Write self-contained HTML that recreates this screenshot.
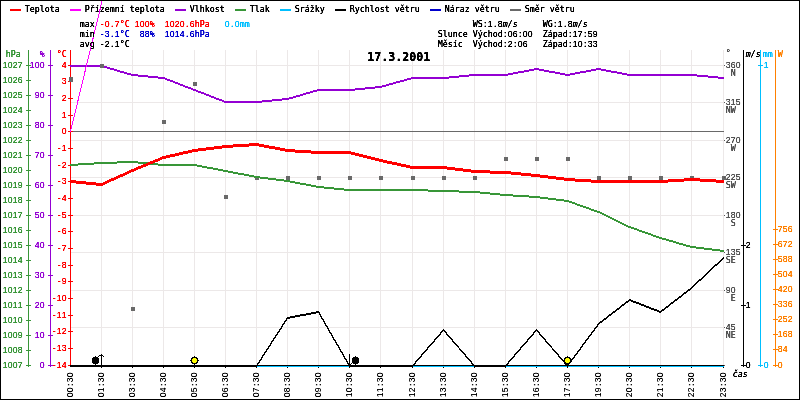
<!DOCTYPE html>
<html lang="cs"><head><meta charset="utf-8"><title>Meteo 17.3.2001</title>
<style>
html,body{margin:0;padding:0;background:#fff;}
body{width:800px;height:400px;overflow:hidden;}
svg{display:block;}
.t{font-family:"DejaVu Sans Mono","Liberation Mono",monospace;font-size:8.305px;white-space:pre;}
.i{font-family:"DejaVu Sans Mono","Liberation Mono",monospace;font-size:8.305px;font-style:italic;white-space:pre;}
.b{font-family:"DejaVu Sans Mono","Liberation Mono",monospace;font-size:11.63px;font-weight:bold;white-space:pre;}
.d{font-family:"Liberation Sans","DejaVu Sans",sans-serif;font-size:8.6px;font-style:normal;}
.db{font-family:"Liberation Sans","DejaVu Sans",sans-serif;font-size:11.6px;font-weight:bold;}
#labels text,#times text{text-anchor:middle;}
</style></head><body>
<svg width="800" height="400" viewBox="0 0 800 400">
<defs><filter id="px" x="0" y="0" width="100%" height="100%" color-interpolation-filters="sRGB"><feComponentTransfer><feFuncA type="linear" slope="2.1" intercept="-0.08"/></feComponentTransfer></filter><filter id="px2" x="0" y="0" width="100%" height="100%" color-interpolation-filters="sRGB"><feComponentTransfer><feFuncA type="linear" slope="1.25" intercept="0"/></feComponentTransfer></filter></defs>
<rect x="0" y="0" width="800" height="400" fill="#fff"/>
<g shape-rendering="crispEdges">
<rect x="101" y="50" width="1" height="315" fill="#ece8e8"/>
<rect x="132" y="50" width="1" height="315" fill="#ece8e8"/>
<rect x="163" y="50" width="1" height="315" fill="#ece8e8"/>
<rect x="194" y="50" width="1" height="315" fill="#ece8e8"/>
<rect x="225" y="50" width="1" height="315" fill="#ece8e8"/>
<rect x="256" y="50" width="1" height="315" fill="#ece8e8"/>
<rect x="287" y="50" width="1" height="315" fill="#ece8e8"/>
<rect x="318" y="50" width="1" height="315" fill="#ece8e8"/>
<rect x="349" y="50" width="1" height="315" fill="#ece8e8"/>
<rect x="380" y="50" width="1" height="315" fill="#ece8e8"/>
<rect x="412" y="50" width="1" height="315" fill="#ece8e8"/>
<rect x="443" y="50" width="1" height="315" fill="#ece8e8"/>
<rect x="474" y="50" width="1" height="315" fill="#ece8e8"/>
<rect x="505" y="50" width="1" height="315" fill="#ece8e8"/>
<rect x="536" y="50" width="1" height="315" fill="#ece8e8"/>
<rect x="567" y="50" width="1" height="315" fill="#ece8e8"/>
<rect x="598" y="50" width="1" height="315" fill="#ece8e8"/>
<rect x="629" y="50" width="1" height="315" fill="#ece8e8"/>
<rect x="660" y="50" width="1" height="315" fill="#ece8e8"/>
<rect x="691" y="50" width="1" height="315" fill="#ece8e8"/>
<rect x="723" y="50" width="1" height="315" fill="#ece8e8"/>
<rect x="70" y="65" width="654" height="1" fill="#ece8e8"/>
<rect x="70" y="102" width="654" height="1" fill="#ece8e8"/>
<rect x="70" y="140" width="654" height="1" fill="#ece8e8"/>
<rect x="70" y="177" width="654" height="1" fill="#ece8e8"/>
<rect x="70" y="215" width="654" height="1" fill="#ece8e8"/>
<rect x="70" y="252" width="654" height="1" fill="#ece8e8"/>
<rect x="70" y="290" width="654" height="1" fill="#ece8e8"/>
<rect x="70" y="327" width="654" height="1" fill="#ece8e8"/>
<rect x="70" y="365" width="654" height="1" fill="#ece8e8"/>
<rect x="70" y="131" width="654" height="1" fill="#696969"/>
<rect x="28" y="50" width="1" height="317" fill="#389638"/>
<rect x="26" y="65" width="5" height="1" fill="#389638"/>
<rect x="26" y="80" width="5" height="1" fill="#389638"/>
<rect x="26" y="95" width="5" height="1" fill="#389638"/>
<rect x="26" y="110" width="5" height="1" fill="#389638"/>
<rect x="26" y="125" width="5" height="1" fill="#389638"/>
<rect x="26" y="140" width="5" height="1" fill="#389638"/>
<rect x="26" y="155" width="5" height="1" fill="#389638"/>
<rect x="26" y="170" width="5" height="1" fill="#389638"/>
<rect x="26" y="185" width="5" height="1" fill="#389638"/>
<rect x="26" y="200" width="5" height="1" fill="#389638"/>
<rect x="26" y="215" width="5" height="1" fill="#389638"/>
<rect x="26" y="230" width="5" height="1" fill="#389638"/>
<rect x="26" y="245" width="5" height="1" fill="#389638"/>
<rect x="26" y="260" width="5" height="1" fill="#389638"/>
<rect x="26" y="275" width="5" height="1" fill="#389638"/>
<rect x="26" y="290" width="5" height="1" fill="#389638"/>
<rect x="26" y="305" width="5" height="1" fill="#389638"/>
<rect x="26" y="320" width="5" height="1" fill="#389638"/>
<rect x="26" y="335" width="5" height="1" fill="#389638"/>
<rect x="26" y="350" width="5" height="1" fill="#389638"/>
<rect x="26" y="365" width="5" height="1" fill="#389638"/>
<rect x="50" y="50" width="1" height="317" fill="#9400d3"/>
<rect x="48" y="65" width="5" height="1" fill="#9400d3"/>
<rect x="48" y="95" width="5" height="1" fill="#9400d3"/>
<rect x="48" y="125" width="5" height="1" fill="#9400d3"/>
<rect x="48" y="155" width="5" height="1" fill="#9400d3"/>
<rect x="48" y="185" width="5" height="1" fill="#9400d3"/>
<rect x="48" y="215" width="5" height="1" fill="#9400d3"/>
<rect x="48" y="245" width="5" height="1" fill="#9400d3"/>
<rect x="48" y="275" width="5" height="1" fill="#9400d3"/>
<rect x="48" y="305" width="5" height="1" fill="#9400d3"/>
<rect x="48" y="335" width="5" height="1" fill="#9400d3"/>
<rect x="48" y="365" width="5" height="1" fill="#9400d3"/>
<rect x="70" y="50" width="1" height="315" fill="#ff0000"/>
<rect x="68" y="65" width="5" height="1" fill="#ff0000"/>
<rect x="68" y="81" width="5" height="1" fill="#ff0000"/>
<rect x="68" y="98" width="5" height="1" fill="#ff0000"/>
<rect x="68" y="115" width="5" height="1" fill="#ff0000"/>
<rect x="68" y="131" width="5" height="1" fill="#ff0000"/>
<rect x="68" y="148" width="5" height="1" fill="#ff0000"/>
<rect x="68" y="165" width="5" height="1" fill="#ff0000"/>
<rect x="68" y="181" width="5" height="1" fill="#ff0000"/>
<rect x="68" y="198" width="5" height="1" fill="#ff0000"/>
<rect x="68" y="215" width="5" height="1" fill="#ff0000"/>
<rect x="68" y="231" width="5" height="1" fill="#ff0000"/>
<rect x="68" y="248" width="5" height="1" fill="#ff0000"/>
<rect x="68" y="265" width="5" height="1" fill="#ff0000"/>
<rect x="68" y="281" width="5" height="1" fill="#ff0000"/>
<rect x="68" y="298" width="5" height="1" fill="#ff0000"/>
<rect x="68" y="315" width="5" height="1" fill="#ff0000"/>
<rect x="68" y="331" width="5" height="1" fill="#ff0000"/>
<rect x="68" y="348" width="5" height="1" fill="#ff0000"/>
<rect x="68" y="365" width="2" height="1" fill="#ff0000"/>
<rect x="70" y="131" width="1" height="1" fill="#ff00ff"/>
<rect x="70" y="365" width="654" height="2" fill="#00bfff"/>
<polygon fill="#9400d3" points="70.00,65.00 102.00,65.00 102.00,67.00 70.00,67.00"/>
<polygon fill="#9400d3" points="101.00,64.85 133.00,74.15 133.00,76.15 101.00,66.85"/>
<polygon fill="#9400d3" points="132.00,73.95 164.00,77.05 164.00,79.05 132.00,75.95"/>
<polygon fill="#9400d3" points="163.00,76.81 195.00,89.19 195.00,91.19 163.00,78.81"/>
<polygon fill="#9400d3" points="194.00,88.81 226.00,101.19 226.00,103.19 194.00,90.81"/>
<polygon fill="#9400d3" points="225.00,101.00 257.00,101.00 257.00,103.00 225.00,103.00"/>
<polygon fill="#9400d3" points="256.00,101.05 288.00,97.95 288.00,99.95 256.00,103.05"/>
<polygon fill="#9400d3" points="287.00,98.15 319.00,88.85 319.00,90.85 287.00,100.15"/>
<polygon fill="#9400d3" points="318.00,89.00 350.00,89.00 350.00,91.00 318.00,91.00"/>
<polygon fill="#9400d3" points="349.00,89.05 381.00,85.95 381.00,87.95 349.00,91.05"/>
<polygon fill="#9400d3" points="380.00,86.14 413.00,76.86 413.00,78.86 380.00,88.14"/>
<polygon fill="#9400d3" points="412.00,77.00 444.00,77.00 444.00,79.00 412.00,79.00"/>
<polygon fill="#9400d3" points="443.00,77.05 475.00,73.95 475.00,75.95 443.00,79.05"/>
<polygon fill="#9400d3" points="474.00,74.00 506.00,74.00 506.00,76.00 474.00,76.00"/>
<polygon fill="#9400d3" points="505.00,74.10 537.00,67.90 537.00,69.90 505.00,76.10"/>
<polygon fill="#9400d3" points="536.00,67.90 568.00,74.10 568.00,76.10 536.00,69.90"/>
<polygon fill="#9400d3" points="567.00,74.10 599.00,67.90 599.00,69.90 567.00,76.10"/>
<polygon fill="#9400d3" points="598.00,67.90 630.00,74.10 630.00,76.10 598.00,69.90"/>
<polygon fill="#9400d3" points="629.00,74.00 661.00,74.00 661.00,76.00 629.00,76.00"/>
<polygon fill="#9400d3" points="660.00,74.00 692.00,74.00 692.00,76.00 660.00,76.00"/>
<polygon fill="#9400d3" points="691.00,73.95 724.00,77.05 724.00,79.05 691.00,75.95"/>
<rect x="69" y="77" width="4" height="5" fill="#696969"/>
<rect x="100" y="64" width="4" height="4" fill="#696969"/>
<rect x="131" y="307" width="4" height="4" fill="#696969"/>
<rect x="162" y="120" width="4" height="4" fill="#696969"/>
<rect x="193" y="82" width="4" height="4" fill="#696969"/>
<rect x="224" y="195" width="4" height="4" fill="#696969"/>
<rect x="255" y="176" width="4" height="4" fill="#696969"/>
<rect x="286" y="176" width="4" height="4" fill="#696969"/>
<rect x="317" y="176" width="4" height="4" fill="#696969"/>
<rect x="348" y="176" width="4" height="4" fill="#696969"/>
<rect x="379" y="176" width="4" height="4" fill="#696969"/>
<rect x="411" y="176" width="4" height="4" fill="#696969"/>
<rect x="442" y="176" width="4" height="4" fill="#696969"/>
<rect x="473" y="176" width="4" height="4" fill="#696969"/>
<rect x="504" y="157" width="4" height="4" fill="#696969"/>
<rect x="535" y="157" width="4" height="4" fill="#696969"/>
<rect x="566" y="157" width="4" height="4" fill="#696969"/>
<rect x="597" y="176" width="4" height="4" fill="#696969"/>
<rect x="628" y="176" width="4" height="4" fill="#696969"/>
<rect x="659" y="176" width="4" height="4" fill="#696969"/>
<rect x="690" y="176" width="4" height="4" fill="#696969"/>
<rect x="722" y="176" width="4" height="4" fill="#696969"/>
<polygon fill="#389638" points="70.00,164.03 102.00,161.97 102.00,163.97 70.00,166.03"/>
<polygon fill="#389638" points="101.00,162.02 133.00,160.98 133.00,162.98 101.00,164.02"/>
<polygon fill="#389638" points="132.00,160.95 164.00,164.05 164.00,166.05 132.00,162.95"/>
<polygon fill="#389638" points="163.00,164.00 195.00,164.00 195.00,166.00 163.00,166.00"/>
<polygon fill="#389638" points="194.00,163.90 226.00,170.10 226.00,172.10 194.00,165.90"/>
<polygon fill="#389638" points="225.00,169.90 257.00,176.10 257.00,178.10 225.00,171.90"/>
<polygon fill="#389638" points="256.00,175.94 288.00,180.06 288.00,182.06 256.00,177.94"/>
<polygon fill="#389638" points="287.00,179.90 319.00,186.10 319.00,188.10 287.00,181.90"/>
<polygon fill="#389638" points="318.00,185.95 350.00,189.05 350.00,191.05 318.00,187.95"/>
<polygon fill="#389638" points="349.00,189.00 381.00,189.00 381.00,191.00 349.00,191.00"/>
<polygon fill="#389638" points="380.00,189.00 413.00,189.00 413.00,191.00 380.00,191.00"/>
<polygon fill="#389638" points="412.00,188.98 444.00,190.02 444.00,192.02 412.00,190.98"/>
<polygon fill="#389638" points="443.00,189.98 475.00,191.02 475.00,193.02 443.00,191.98"/>
<polygon fill="#389638" points="474.00,190.95 506.00,194.05 506.00,196.05 474.00,192.95"/>
<polygon fill="#389638" points="505.00,193.97 537.00,196.03 537.00,198.03 505.00,195.97"/>
<polygon fill="#389638" points="536.00,195.94 568.00,200.06 568.00,202.06 536.00,197.94"/>
<polygon fill="#389638" points="567.00,199.82 599.00,211.18 599.00,213.18 567.00,201.82"/>
<polygon fill="#389638" points="598.00,210.76 630.00,226.24 630.00,228.24 598.00,212.76"/>
<polygon fill="#389638" points="629.00,225.82 661.00,237.18 661.00,239.18 629.00,227.82"/>
<polygon fill="#389638" points="660.00,236.85 692.00,246.15 692.00,248.15 660.00,238.85"/>
<polygon fill="#389638" points="691.00,245.94 724.00,250.06 724.00,252.06 691.00,247.94"/>
<polygon fill="#ff0000" points="70.00,179.95 102.00,183.05 102.00,186.05 70.00,182.95"/>
<polygon fill="#ff0000" points="101.00,183.23 133.00,168.77 133.00,171.77 101.00,186.23"/>
<polygon fill="#ff0000" points="132.00,169.21 164.00,155.79 164.00,158.79 132.00,172.21"/>
<polygon fill="#ff0000" points="163.00,156.11 195.00,148.89 195.00,151.89 163.00,159.11"/>
<polygon fill="#ff0000" points="194.00,149.06 226.00,144.94 226.00,147.94 194.00,152.06"/>
<polygon fill="#ff0000" points="225.00,145.03 257.00,142.97 257.00,145.97 225.00,148.03"/>
<polygon fill="#ff0000" points="256.00,142.90 288.00,149.10 288.00,152.10 256.00,145.90"/>
<polygon fill="#ff0000" points="287.00,148.97 319.00,151.03 319.00,154.03 287.00,151.97"/>
<polygon fill="#ff0000" points="318.00,151.00 350.00,151.00 350.00,154.00 318.00,154.00"/>
<polygon fill="#ff0000" points="349.00,150.87 381.00,159.13 381.00,162.13 349.00,153.87"/>
<polygon fill="#ff0000" points="380.00,158.89 413.00,166.11 413.00,169.11 380.00,161.89"/>
<polygon fill="#ff0000" points="412.00,166.00 444.00,166.00 444.00,169.00 412.00,169.00"/>
<polygon fill="#ff0000" points="443.00,165.94 475.00,170.06 475.00,173.06 443.00,168.94"/>
<polygon fill="#ff0000" points="474.00,169.98 506.00,171.02 506.00,174.02 474.00,172.98"/>
<polygon fill="#ff0000" points="505.00,170.95 537.00,174.05 537.00,177.05 505.00,173.95"/>
<polygon fill="#ff0000" points="536.00,173.94 568.00,178.06 568.00,181.06 536.00,176.94"/>
<polygon fill="#ff0000" points="567.00,177.97 599.00,180.03 599.00,183.03 567.00,180.97"/>
<polygon fill="#ff0000" points="598.00,180.00 630.00,180.00 630.00,183.00 598.00,183.00"/>
<polygon fill="#ff0000" points="629.00,180.00 661.00,180.00 661.00,183.00 629.00,183.00"/>
<polygon fill="#ff0000" points="660.00,180.03 692.00,177.97 692.00,180.97 660.00,183.03"/>
<polygon fill="#ff0000" points="691.00,177.97 724.00,180.03 724.00,183.03 691.00,180.97"/>
<line x1="70.5" y1="131.5" x2="102.2" y2="0.5" stroke="#ff00ff" stroke-width="1"/>
<polygon fill="#0000cd" points="70.00,365.00 102.00,365.00 102.00,367.00 70.00,367.00"/>
<polygon fill="#0000cd" points="101.00,365.00 133.00,365.00 133.00,367.00 101.00,367.00"/>
<polygon fill="#0000cd" points="132.00,365.00 164.00,365.00 164.00,367.00 132.00,367.00"/>
<polygon fill="#0000cd" points="163.00,365.00 195.00,365.00 195.00,367.00 163.00,367.00"/>
<polygon fill="#0000cd" points="194.00,365.00 226.00,365.00 226.00,367.00 194.00,367.00"/>
<polygon fill="#0000cd" points="225.00,365.00 257.00,365.00 257.00,367.00 225.00,367.00"/>
<polygon fill="#0000cd" points="256.00,365.50 288.00,315.95 288.00,318.50 256.00,368.05"/>
<polygon fill="#0000cd" points="287.00,317.10 319.00,310.90 319.00,312.90 287.00,319.10"/>
<polygon fill="#0000cd" points="318.00,309.76 350.00,365.50 350.00,368.24 318.00,312.50"/>
<polygon fill="#0000cd" points="349.00,365.00 381.00,365.00 381.00,367.00 349.00,367.00"/>
<polygon fill="#0000cd" points="380.00,365.00 413.00,365.00 413.00,367.00 380.00,367.00"/>
<polygon fill="#0000cd" points="412.00,365.50 444.00,328.34 444.00,330.50 412.00,367.66"/>
<polygon fill="#0000cd" points="443.00,328.34 475.00,365.50 475.00,367.66 443.00,330.50"/>
<polygon fill="#0000cd" points="474.00,365.00 506.00,365.00 506.00,367.00 474.00,367.00"/>
<polygon fill="#0000cd" points="505.00,365.50 537.00,328.34 537.00,330.50 505.00,367.66"/>
<polygon fill="#0000cd" points="536.00,328.34 568.00,365.50 568.00,367.66 536.00,330.50"/>
<polygon fill="#0000cd" points="567.00,365.50 599.00,322.15 599.00,324.50 567.00,367.85"/>
<polygon fill="#0000cd" points="598.00,323.39 630.00,298.61 630.00,300.61 598.00,325.39"/>
<polygon fill="#0000cd" points="629.00,298.81 661.00,311.19 661.00,313.19 629.00,300.81"/>
<polygon fill="#0000cd" points="660.00,311.39 692.00,286.61 692.00,288.61 660.00,313.39"/>
<polygon fill="#0000cd" points="691.00,287.47 724.00,256.53 724.00,258.53 691.00,289.47"/>
<polygon fill="#000000" points="70.00,365.00 102.00,365.00 102.00,367.00 70.00,367.00"/>
<polygon fill="#000000" points="101.00,365.00 133.00,365.00 133.00,367.00 101.00,367.00"/>
<polygon fill="#000000" points="132.00,365.00 164.00,365.00 164.00,367.00 132.00,367.00"/>
<polygon fill="#000000" points="163.00,365.00 195.00,365.00 195.00,367.00 163.00,367.00"/>
<polygon fill="#000000" points="194.00,365.00 226.00,365.00 226.00,367.00 194.00,367.00"/>
<polygon fill="#000000" points="225.00,365.00 257.00,365.00 257.00,367.00 225.00,367.00"/>
<polygon fill="#000000" points="256.00,365.50 288.00,315.95 288.00,318.50 256.00,368.05"/>
<polygon fill="#000000" points="287.00,317.10 319.00,310.90 319.00,312.90 287.00,319.10"/>
<polygon fill="#000000" points="318.00,309.76 350.00,365.50 350.00,368.24 318.00,312.50"/>
<polygon fill="#000000" points="349.00,365.00 381.00,365.00 381.00,367.00 349.00,367.00"/>
<polygon fill="#000000" points="380.00,365.00 413.00,365.00 413.00,367.00 380.00,367.00"/>
<polygon fill="#000000" points="412.00,365.50 444.00,328.34 444.00,330.50 412.00,367.66"/>
<polygon fill="#000000" points="443.00,328.34 475.00,365.50 475.00,367.66 443.00,330.50"/>
<polygon fill="#000000" points="474.00,365.00 506.00,365.00 506.00,367.00 474.00,367.00"/>
<polygon fill="#000000" points="505.00,365.50 537.00,328.34 537.00,330.50 505.00,367.66"/>
<polygon fill="#000000" points="536.00,328.34 568.00,365.50 568.00,367.66 536.00,330.50"/>
<polygon fill="#000000" points="567.00,365.50 599.00,322.15 599.00,324.50 567.00,367.85"/>
<polygon fill="#000000" points="598.00,323.39 630.00,298.61 630.00,300.61 598.00,325.39"/>
<polygon fill="#000000" points="629.00,298.81 661.00,311.19 661.00,313.19 629.00,300.81"/>
<polygon fill="#000000" points="660.00,311.39 692.00,286.61 692.00,288.61 660.00,313.39"/>
<polygon fill="#000000" points="691.00,287.47 724.00,256.53 724.00,258.53 691.00,289.47"/>
<rect x="70" y="365" width="654" height="1" fill="#000000"/>
<rect x="101" y="367" width="1" height="1" fill="#000000"/>
<rect x="132" y="367" width="1" height="1" fill="#000000"/>
<rect x="163" y="367" width="1" height="1" fill="#000000"/>
<rect x="194" y="367" width="1" height="1" fill="#000000"/>
<rect x="225" y="367" width="1" height="1" fill="#000000"/>
<rect x="256" y="367" width="1" height="1" fill="#000000"/>
<rect x="287" y="367" width="1" height="1" fill="#000000"/>
<rect x="318" y="367" width="1" height="1" fill="#000000"/>
<rect x="349" y="367" width="1" height="1" fill="#000000"/>
<rect x="380" y="367" width="1" height="1" fill="#000000"/>
<rect x="412" y="367" width="1" height="1" fill="#000000"/>
<rect x="443" y="367" width="1" height="1" fill="#000000"/>
<rect x="474" y="367" width="1" height="1" fill="#000000"/>
<rect x="505" y="367" width="1" height="1" fill="#000000"/>
<rect x="536" y="367" width="1" height="1" fill="#000000"/>
<rect x="567" y="367" width="1" height="1" fill="#000000"/>
<rect x="598" y="367" width="1" height="1" fill="#000000"/>
<rect x="629" y="367" width="1" height="1" fill="#000000"/>
<rect x="660" y="367" width="1" height="1" fill="#000000"/>
<rect x="691" y="367" width="1" height="1" fill="#000000"/>
<rect x="723" y="367" width="1" height="1" fill="#000000"/>
<rect x="724" y="65" width="1" height="1" fill="#555555"/>
<rect x="724" y="102" width="1" height="1" fill="#555555"/>
<rect x="724" y="140" width="1" height="1" fill="#555555"/>
<rect x="724" y="177" width="1" height="1" fill="#555555"/>
<rect x="724" y="215" width="1" height="1" fill="#555555"/>
<rect x="724" y="252" width="1" height="1" fill="#555555"/>
<rect x="724" y="290" width="1" height="1" fill="#555555"/>
<rect x="724" y="327" width="1" height="1" fill="#555555"/>
<rect x="724" y="365" width="1" height="1" fill="#555555"/>
<rect x="743" y="50" width="1" height="317" fill="#000000"/>
<rect x="741" y="365" width="5" height="1" fill="#000000"/>
<rect x="741" y="305" width="5" height="1" fill="#000000"/>
<rect x="741" y="245" width="5" height="1" fill="#000000"/>
<rect x="760" y="50" width="1" height="317" fill="#00bfff"/>
<rect x="758" y="65" width="5" height="1" fill="#00bfff"/>
<rect x="758" y="365" width="5" height="1" fill="#00bfff"/>
<rect x="775" y="50" width="1" height="317" fill="#ff8000"/>
<rect x="773" y="365" width="5" height="1" fill="#ff8000"/>
<rect x="773" y="349" width="5" height="1" fill="#ff8000"/>
<rect x="773" y="334" width="5" height="1" fill="#ff8000"/>
<rect x="773" y="319" width="5" height="1" fill="#ff8000"/>
<rect x="773" y="304" width="5" height="1" fill="#ff8000"/>
<rect x="773" y="289" width="5" height="1" fill="#ff8000"/>
<rect x="773" y="274" width="5" height="1" fill="#ff8000"/>
<rect x="773" y="259" width="5" height="1" fill="#ff8000"/>
<rect x="773" y="244" width="5" height="1" fill="#ff8000"/>
<rect x="773" y="229" width="5" height="1" fill="#ff8000"/>
<rect x="101" y="354" width="1" height="14" fill="#000000"/>
<rect x="99" y="355" width="4" height="1" fill="#000000"/>
<rect x="98" y="356" width="1" height="1" fill="#000000"/>
<rect x="103" y="356" width="1" height="1" fill="#000000"/>
<rect x="349" y="354" width="1" height="14" fill="#000000"/>
<rect x="348" y="364" width="3" height="1" fill="#000000"/>
<rect x="347" y="363" width="1" height="1" fill="#000000"/>
<rect x="351" y="363" width="1" height="1" fill="#000000"/>
<rect x="95" y="356" width="1" height="10" fill="#000000"/>
<rect x="93" y="357" width="5" height="7" fill="#000000"/>
<rect x="92" y="358" width="7" height="5" fill="#000000"/>
<rect x="355" y="356" width="1" height="10" fill="#000000"/>
<rect x="353" y="357" width="5" height="7" fill="#000000"/>
<rect x="352" y="358" width="7" height="5" fill="#000000"/>
<rect x="194" y="356" width="1" height="12" fill="#000000"/>
<rect x="190" y="360" width="9" height="1" fill="#000000"/>
<rect x="192" y="357" width="5" height="7" fill="#000000"/>
<rect x="191" y="358" width="7" height="5" fill="#000000"/>
<rect x="193" y="358" width="3" height="5" fill="#ffff00"/>
<rect x="192" y="359" width="5" height="3" fill="#ffff00"/>
<rect x="567" y="356" width="1" height="12" fill="#000000"/>
<rect x="563" y="360" width="9" height="1" fill="#000000"/>
<rect x="565" y="357" width="5" height="7" fill="#000000"/>
<rect x="564" y="358" width="7" height="5" fill="#000000"/>
<rect x="566" y="358" width="3" height="5" fill="#ffff00"/>
<rect x="565" y="359" width="5" height="3" fill="#ffff00"/>
</g>
<g shape-rendering="crispEdges">
<rect x="0" y="0" width="800" height="1" fill="#000000"/>
<rect x="0" y="399" width="800" height="1" fill="#000000"/>
<rect x="0" y="0" width="1" height="400" fill="#000000"/>
<rect x="799" y="0" width="1" height="400" fill="#000000"/>
<rect x="10" y="9" width="11" height="2" fill="#ff0000"/>
<rect x="70" y="9" width="11" height="2" fill="#ff00ff"/>
<rect x="175" y="9" width="11" height="2" fill="#9400d3"/>
<rect x="235" y="9" width="11" height="2" fill="#389638"/>
<rect x="280" y="9" width="11" height="2" fill="#00bfff"/>
<rect x="335" y="9" width="11" height="2" fill="#000000"/>
<rect x="430" y="9" width="11" height="2" fill="#0000cd"/>
<rect x="510" y="9" width="11" height="2" fill="#696969"/>
</g>
<g id="labels" filter="url(#px)">
<text class="t" x="27.2 32.2 37.2 42.2 47.2 52.2 57.2" y="12" fill="#000000">Teplota</text>
<text class="t" x="87.2 92.2 97.2 102.2 107.2 112.2 117.2 122.2" y="12" fill="#000000">Přízemní</text>
<text class="t" x="132.2 137.2 142.2 147.2 152.2 157.2 162.2" y="12" fill="#000000">teplota</text>
<text class="t" x="192.2 197.2 202.2 207.2 212.2 217.2 222.2" y="12" fill="#000000">Vlhkost</text>
<text class="t" x="252.2 257.2 262.2 267.2" y="12" fill="#000000">Tlak</text>
<text class="t" x="297.2 302.2 307.2 312.2 317.2 322.2" y="12" fill="#000000">Srážky</text>
<text class="t" x="352.2 357.2 362.2 367.2 372.2 377.2 382.2 387.2" y="12" fill="#000000">Rychlost</text>
<text class="t" x="397.2 402.2 407.2 412.2 417.2" y="12" fill="#000000">větru</text>
<text class="t" x="447.2 452.2 457.2 462.2 467.2" y="12" fill="#000000">Náraz</text>
<text class="t" x="477.2 482.2 487.2 492.2 497.2" y="12" fill="#000000">větru</text>
<text class="t" x="527.2 532.2 537.2 542.2" y="12" fill="#000000">Směr</text>
<text class="t" x="552.2 557.2 562.2 567.2 572.2" y="12" fill="#000000">větru</text>
<text class="t" x="82.2 87.2 92.2" y="27" fill="#000000">max</text>
<text class="t" x="102.2 107.2 112.2 117.2 122.2 127.2" y="27" fill="#ff0000">-<tspan class="d">0</tspan>.<tspan class="d">7</tspan>°C</text>
<text class="t" x="137.2 142.2 147.2 152.2" y="27" fill="#ff0000"><tspan class="d">100</tspan>%</text>
<text class="t" x="167.2 172.2 177.2 182.2 187.2 192.2 197.2 202.2 207.2" y="27" fill="#ff0000"><tspan class="d">1020</tspan>.<tspan class="d">6</tspan>hPa</text>
<text class="t" x="227.2 232.2 237.2 242.2 247.2" y="27" fill="#00bfff"><tspan class="d">0</tspan>.<tspan class="d">0</tspan>mm</text>
<text class="t" x="82.2 87.2 92.2" y="37" fill="#000000">min</text>
<text class="t" x="102.2 107.2 112.2 117.2 122.2 127.2" y="37" fill="#0000cd">-<tspan class="d">3</tspan>.<tspan class="d">1</tspan>°C</text>
<text class="t" x="142.2 147.2 152.2" y="37" fill="#0000cd"><tspan class="d">88</tspan>%</text>
<text class="t" x="167.2 172.2 177.2 182.2 187.2 192.2 197.2 202.2 207.2" y="37" fill="#0000cd"><tspan class="d">1014</tspan>.<tspan class="d">6</tspan>hPa</text>
<text class="t" x="82.2 87.2 92.2" y="47" fill="#000000">avg</text>
<text class="t" x="102.2 107.2 112.2 117.2 122.2 127.2" y="47" fill="#000000">-<tspan class="d">2</tspan>.<tspan class="d">1</tspan>°C</text>
<text class="t" x="475.2 480.2 485.2 490.2 495.2 500.2" y="27" fill="#000000">WS:<tspan class="d">1</tspan>.<tspan class="d">8</tspan></text>
<text class="i" x="505.2 510.2 515.2" y="27" fill="#000000">m/s</text>
<text class="t" x="545.2 550.2 555.2 560.2 565.2 570.2" y="27" fill="#000000">WG:<tspan class="d">1</tspan>.<tspan class="d">8</tspan></text>
<text class="i" x="575.2 580.2 585.2" y="27" fill="#000000">m/s</text>
<text class="t" x="440.2 445.2 450.2 455.2 460.2 465.2" y="37" fill="#000000">Slunce</text>
<text class="t" x="475.2 480.2 485.2 490.2 495.2 500.2 505.2 510.2 515.2 520.2 525.2 530.2" y="37" fill="#000000">Východ:<tspan class="d">06</tspan>:<tspan class="d">00</tspan></text>
<text class="t" x="545.2 550.2 555.2 560.2 565.2 570.2 575.2 580.2 585.2 590.2 595.2" y="37" fill="#000000">Západ:<tspan class="d">17</tspan>:<tspan class="d">59</tspan></text>
<text class="t" x="440.2 445.2 450.2 455.2 460.2" y="47" fill="#000000">Měsíc</text>
<text class="t" x="475.2 480.2 485.2 490.2 495.2 500.2 505.2 510.2 515.2 520.2 525.2" y="47" fill="#000000">Východ:<tspan class="d">2</tspan>:<tspan class="d">06</tspan></text>
<text class="t" x="545.2 550.2 555.2 560.2 565.2 570.2 575.2 580.2 585.2 590.2 595.2" y="47" fill="#000000">Západ:<tspan class="d">10</tspan>:<tspan class="d">33</tspan></text>
<text class="b" x="370.7 377.7 384.7 391.7 398.7 405.7 412.7 419.7 426.7" y="61" fill="#000000"><tspan class="b">17</tspan>.<tspan class="b">3</tspan>.<tspan class="b">2001</tspan></text>
<text class="t" x="8.2 13.2 18.2" y="57" fill="#389638">hPa</text>
<text class="t" x="5.2 10.2 15.2 20.2" y="68" fill="#389638"><tspan class="d">1027</tspan></text>
<text class="t" x="5.2 10.2 15.2 20.2" y="83" fill="#389638"><tspan class="d">1026</tspan></text>
<text class="t" x="5.2 10.2 15.2 20.2" y="98" fill="#389638"><tspan class="d">1025</tspan></text>
<text class="t" x="5.2 10.2 15.2 20.2" y="113" fill="#389638"><tspan class="d">1024</tspan></text>
<text class="t" x="5.2 10.2 15.2 20.2" y="128" fill="#389638"><tspan class="d">1023</tspan></text>
<text class="t" x="5.2 10.2 15.2 20.2" y="143" fill="#389638"><tspan class="d">1022</tspan></text>
<text class="t" x="5.2 10.2 15.2 20.2" y="158" fill="#389638"><tspan class="d">1021</tspan></text>
<text class="t" x="5.2 10.2 15.2 20.2" y="173" fill="#389638"><tspan class="d">1020</tspan></text>
<text class="t" x="5.2 10.2 15.2 20.2" y="188" fill="#389638"><tspan class="d">1019</tspan></text>
<text class="t" x="5.2 10.2 15.2 20.2" y="203" fill="#389638"><tspan class="d">1018</tspan></text>
<text class="t" x="5.2 10.2 15.2 20.2" y="218" fill="#389638"><tspan class="d">1017</tspan></text>
<text class="t" x="5.2 10.2 15.2 20.2" y="233" fill="#389638"><tspan class="d">1016</tspan></text>
<text class="t" x="5.2 10.2 15.2 20.2" y="248" fill="#389638"><tspan class="d">1015</tspan></text>
<text class="t" x="5.2 10.2 15.2 20.2" y="263" fill="#389638"><tspan class="d">1014</tspan></text>
<text class="t" x="5.2 10.2 15.2 20.2" y="278" fill="#389638"><tspan class="d">1013</tspan></text>
<text class="t" x="5.2 10.2 15.2 20.2" y="293" fill="#389638"><tspan class="d">1012</tspan></text>
<text class="t" x="5.2 10.2 15.2 20.2" y="308" fill="#389638"><tspan class="d">1011</tspan></text>
<text class="t" x="5.2 10.2 15.2 20.2" y="323" fill="#389638"><tspan class="d">1010</tspan></text>
<text class="t" x="5.2 10.2 15.2 20.2" y="338" fill="#389638"><tspan class="d">1009</tspan></text>
<text class="t" x="5.2 10.2 15.2 20.2" y="353" fill="#389638"><tspan class="d">1008</tspan></text>
<text class="t" x="5.2 10.2 15.2 20.2" y="368" fill="#389638"><tspan class="d">1007</tspan></text>
<text class="t" x="42.2" y="57" fill="#9400d3">%</text>
<text class="t" x="32.2 37.2 42.2" y="68" fill="#9400d3"><tspan class="d">100</tspan></text>
<text class="t" x="37.2 42.2" y="98" fill="#9400d3"><tspan class="d">90</tspan></text>
<text class="t" x="37.2 42.2" y="128" fill="#9400d3"><tspan class="d">80</tspan></text>
<text class="t" x="37.2 42.2" y="158" fill="#9400d3"><tspan class="d">70</tspan></text>
<text class="t" x="37.2 42.2" y="188" fill="#9400d3"><tspan class="d">60</tspan></text>
<text class="t" x="37.2 42.2" y="218" fill="#9400d3"><tspan class="d">50</tspan></text>
<text class="t" x="37.2 42.2" y="248" fill="#9400d3"><tspan class="d">40</tspan></text>
<text class="t" x="37.2 42.2" y="278" fill="#9400d3"><tspan class="d">30</tspan></text>
<text class="t" x="37.2 42.2" y="308" fill="#9400d3"><tspan class="d">20</tspan></text>
<text class="t" x="37.2 42.2" y="338" fill="#9400d3"><tspan class="d">10</tspan></text>
<text class="t" x="42.2" y="368" fill="#9400d3"><tspan class="d">0</tspan></text>
<text class="t" x="59.2 64.2" y="57" fill="#ff0000">°C</text>
<text class="t" x="64.2" y="68" fill="#ff0000"><tspan class="d">4</tspan></text>
<text class="t" x="64.2" y="84" fill="#ff0000"><tspan class="d">3</tspan></text>
<text class="t" x="64.2" y="101" fill="#ff0000"><tspan class="d">2</tspan></text>
<text class="t" x="64.2" y="118" fill="#ff0000"><tspan class="d">1</tspan></text>
<text class="t" x="64.2" y="134" fill="#ff0000"><tspan class="d">0</tspan></text>
<text class="t" x="59.2 64.2" y="151" fill="#ff0000">-<tspan class="d">1</tspan></text>
<text class="t" x="59.2 64.2" y="168" fill="#ff0000">-<tspan class="d">2</tspan></text>
<text class="t" x="59.2 64.2" y="184" fill="#ff0000">-<tspan class="d">3</tspan></text>
<text class="t" x="59.2 64.2" y="201" fill="#ff0000">-<tspan class="d">4</tspan></text>
<text class="t" x="59.2 64.2" y="218" fill="#ff0000">-<tspan class="d">5</tspan></text>
<text class="t" x="59.2 64.2" y="234" fill="#ff0000">-<tspan class="d">6</tspan></text>
<text class="t" x="59.2 64.2" y="251" fill="#ff0000">-<tspan class="d">7</tspan></text>
<text class="t" x="59.2 64.2" y="268" fill="#ff0000">-<tspan class="d">8</tspan></text>
<text class="t" x="59.2 64.2" y="284" fill="#ff0000">-<tspan class="d">9</tspan></text>
<text class="t" x="54.2 59.2 64.2" y="301" fill="#ff0000">-<tspan class="d">10</tspan></text>
<text class="t" x="54.2 59.2 64.2" y="318" fill="#ff0000">-<tspan class="d">11</tspan></text>
<text class="t" x="54.2 59.2 64.2" y="334" fill="#ff0000">-<tspan class="d">12</tspan></text>
<text class="t" x="54.2 59.2 64.2" y="351" fill="#ff0000">-<tspan class="d">13</tspan></text>
<text class="t" x="54.2 59.2 64.2" y="368" fill="#ff0000">-<tspan class="d">14</tspan></text>
<text class="t" x="728.2" y="56" fill="#555555">°</text>
<text class="t" x="728.2 733.2 738.2" y="68" fill="#555555"><tspan class="d">360</tspan></text>
<text class="t" x="733.2" y="76" fill="#555555">N</text>
<text class="t" x="728.2 733.2 738.2" y="105" fill="#555555"><tspan class="d">315</tspan></text>
<text class="t" x="728.2 733.2" y="113" fill="#555555">NW</text>
<text class="t" x="728.2 733.2 738.2" y="143" fill="#555555"><tspan class="d">270</tspan></text>
<text class="t" x="733.2" y="151" fill="#555555">W</text>
<text class="t" x="728.2 733.2 738.2" y="180" fill="#555555"><tspan class="d">225</tspan></text>
<text class="t" x="728.2 733.2" y="188" fill="#555555">SW</text>
<text class="t" x="728.2 733.2 738.2" y="218" fill="#555555"><tspan class="d">180</tspan></text>
<text class="t" x="733.2" y="226" fill="#555555">S</text>
<text class="t" x="728.2 733.2 738.2" y="255" fill="#555555"><tspan class="d">135</tspan></text>
<text class="t" x="728.2 733.2" y="263" fill="#555555">SE</text>
<text class="t" x="728.2 733.2" y="293" fill="#555555"><tspan class="d">90</tspan></text>
<text class="t" x="733.2" y="301" fill="#555555">E</text>
<text class="t" x="728.2 733.2" y="330" fill="#555555"><tspan class="d">45</tspan></text>
<text class="t" x="728.2 733.2" y="338" fill="#555555">NE</text>
<text class="i" x="748.2 753.2 758.2" y="57" fill="#000000">m/s</text>
<text class="t" x="748.2" y="368" fill="#000000"><tspan class="d">0</tspan></text>
<text class="t" x="748.2" y="308" fill="#000000"><tspan class="d">1</tspan></text>
<text class="t" x="748.2" y="248" fill="#000000"><tspan class="d">2</tspan></text>
<text class="t" x="765.2 770.2" y="57" fill="#00bfff">mm</text>
<text class="t" x="766.2" y="68" fill="#00bfff"><tspan class="d">1</tspan></text>
<text class="t" x="766.2" y="368" fill="#00bfff"><tspan class="d">0</tspan></text>
<text class="t" x="780.2" y="57" fill="#ff8000">W</text>
<text class="t" x="780.2" y="368" fill="#ff8000"><tspan class="d">0</tspan></text>
<text class="t" x="780.2 785.2" y="352" fill="#ff8000"><tspan class="d">84</tspan></text>
<text class="t" x="780.2 785.2 790.2" y="337" fill="#ff8000"><tspan class="d">168</tspan></text>
<text class="t" x="780.2 785.2 790.2" y="322" fill="#ff8000"><tspan class="d">252</tspan></text>
<text class="t" x="780.2 785.2 790.2" y="307" fill="#ff8000"><tspan class="d">336</tspan></text>
<text class="t" x="780.2 785.2 790.2" y="292" fill="#ff8000"><tspan class="d">420</tspan></text>
<text class="t" x="780.2 785.2 790.2" y="277" fill="#ff8000"><tspan class="d">504</tspan></text>
<text class="t" x="780.2 785.2 790.2" y="262" fill="#ff8000"><tspan class="d">588</tspan></text>
<text class="t" x="780.2 785.2 790.2" y="247" fill="#ff8000"><tspan class="d">672</tspan></text>
<text class="t" x="780.2 785.2 790.2" y="232" fill="#ff8000"><tspan class="d">756</tspan></text>
<text class="i" x="735.2 740.2 745.2" y="377" fill="#000000">čas</text>
</g>
<g id="times" filter="url(#px2)">
<text class="t" transform="translate(73,397) rotate(-90)" x="2.2 7.2 12.2 17.2 22.2" y="0" fill="#000000"><tspan class="d">00</tspan>:<tspan class="d">30</tspan></text>
<text class="t" transform="translate(104,397) rotate(-90)" x="2.2 7.2 12.2 17.2 22.2" y="0" fill="#000000"><tspan class="d">01</tspan>:<tspan class="d">30</tspan></text>
<text class="t" transform="translate(135,397) rotate(-90)" x="2.2 7.2 12.2 17.2 22.2" y="0" fill="#000000"><tspan class="d">03</tspan>:<tspan class="d">30</tspan></text>
<text class="t" transform="translate(166,397) rotate(-90)" x="2.2 7.2 12.2 17.2 22.2" y="0" fill="#000000"><tspan class="d">04</tspan>:<tspan class="d">30</tspan></text>
<text class="t" transform="translate(197,397) rotate(-90)" x="2.2 7.2 12.2 17.2 22.2" y="0" fill="#000000"><tspan class="d">05</tspan>:<tspan class="d">30</tspan></text>
<text class="t" transform="translate(228,397) rotate(-90)" x="2.2 7.2 12.2 17.2 22.2" y="0" fill="#000000"><tspan class="d">06</tspan>:<tspan class="d">30</tspan></text>
<text class="t" transform="translate(259,397) rotate(-90)" x="2.2 7.2 12.2 17.2 22.2" y="0" fill="#000000"><tspan class="d">07</tspan>:<tspan class="d">30</tspan></text>
<text class="t" transform="translate(290,397) rotate(-90)" x="2.2 7.2 12.2 17.2 22.2" y="0" fill="#000000"><tspan class="d">08</tspan>:<tspan class="d">30</tspan></text>
<text class="t" transform="translate(321,397) rotate(-90)" x="2.2 7.2 12.2 17.2 22.2" y="0" fill="#000000"><tspan class="d">09</tspan>:<tspan class="d">30</tspan></text>
<text class="t" transform="translate(352,397) rotate(-90)" x="2.2 7.2 12.2 17.2 22.2" y="0" fill="#000000"><tspan class="d">10</tspan>:<tspan class="d">30</tspan></text>
<text class="t" transform="translate(383,397) rotate(-90)" x="2.2 7.2 12.2 17.2 22.2" y="0" fill="#000000"><tspan class="d">11</tspan>:<tspan class="d">30</tspan></text>
<text class="t" transform="translate(415,397) rotate(-90)" x="2.2 7.2 12.2 17.2 22.2" y="0" fill="#000000"><tspan class="d">12</tspan>:<tspan class="d">30</tspan></text>
<text class="t" transform="translate(446,397) rotate(-90)" x="2.2 7.2 12.2 17.2 22.2" y="0" fill="#000000"><tspan class="d">13</tspan>:<tspan class="d">30</tspan></text>
<text class="t" transform="translate(477,397) rotate(-90)" x="2.2 7.2 12.2 17.2 22.2" y="0" fill="#000000"><tspan class="d">14</tspan>:<tspan class="d">30</tspan></text>
<text class="t" transform="translate(508,397) rotate(-90)" x="2.2 7.2 12.2 17.2 22.2" y="0" fill="#000000"><tspan class="d">15</tspan>:<tspan class="d">30</tspan></text>
<text class="t" transform="translate(539,397) rotate(-90)" x="2.2 7.2 12.2 17.2 22.2" y="0" fill="#000000"><tspan class="d">16</tspan>:<tspan class="d">30</tspan></text>
<text class="t" transform="translate(570,397) rotate(-90)" x="2.2 7.2 12.2 17.2 22.2" y="0" fill="#000000"><tspan class="d">17</tspan>:<tspan class="d">30</tspan></text>
<text class="t" transform="translate(601,397) rotate(-90)" x="2.2 7.2 12.2 17.2 22.2" y="0" fill="#000000"><tspan class="d">19</tspan>:<tspan class="d">30</tspan></text>
<text class="t" transform="translate(632,397) rotate(-90)" x="2.2 7.2 12.2 17.2 22.2" y="0" fill="#000000"><tspan class="d">20</tspan>:<tspan class="d">30</tspan></text>
<text class="t" transform="translate(663,397) rotate(-90)" x="2.2 7.2 12.2 17.2 22.2" y="0" fill="#000000"><tspan class="d">21</tspan>:<tspan class="d">30</tspan></text>
<text class="t" transform="translate(694,397) rotate(-90)" x="2.2 7.2 12.2 17.2 22.2" y="0" fill="#000000"><tspan class="d">22</tspan>:<tspan class="d">30</tspan></text>
<text class="t" transform="translate(726,397) rotate(-90)" x="2.2 7.2 12.2 17.2 22.2" y="0" fill="#000000"><tspan class="d">23</tspan>:<tspan class="d">30</tspan></text>
</g>
</svg></body></html>
